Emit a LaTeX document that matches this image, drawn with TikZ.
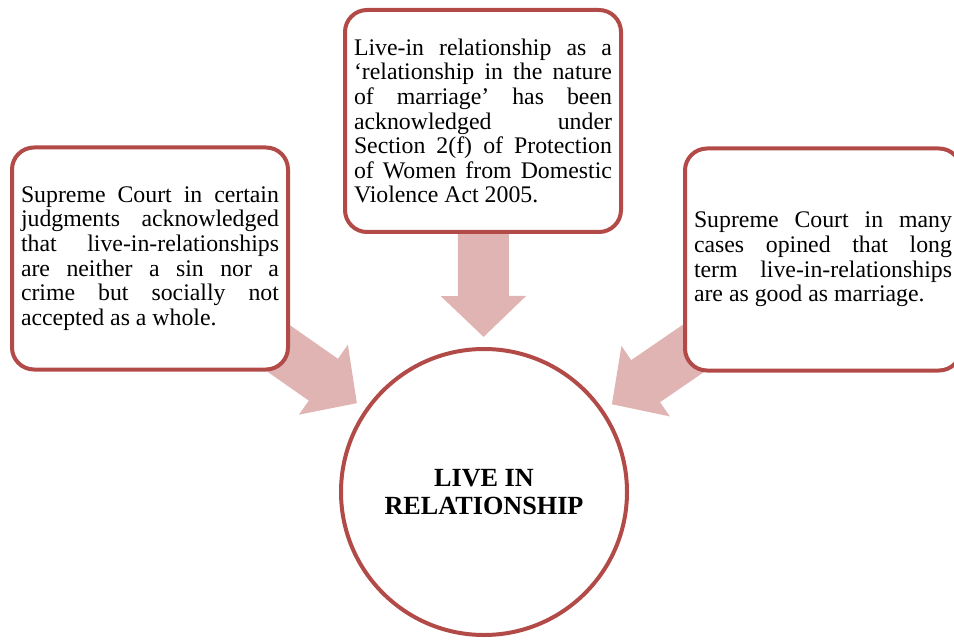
\documentclass[tikz,border=0pt]{standalone}
\usepackage{fontspec}
\setmainfont{Liberation Serif}
\usetikzlibrary{arrows.meta,backgrounds}
\definecolor{rimred}{HTML}{B24B48}
\definecolor{arrowpink}{HTML}{E0B4B3}
\hyphenpenalty=10000
\exhyphenpenalty=10000
\begin{document}
\begin{tikzpicture}[x=0.5pt, y=-0.5pt,
  note/.style={draw=rimred, line width=2pt, rounded corners=11pt, fill=white,
               minimum width=138pt, minimum height=111pt, text width=129pt,
               inner sep=0pt, align=justify,
               font=\fontsize{11.9}{12.3}\selectfont},
  hub/.style={draw=rimred, line width=2pt, circle, fill=white,
              minimum size=143pt, align=center,
              font=\bfseries\fontsize{13.1}{14}\selectfont},
  feed/.style={arrowpink, line width=25.5pt,
               -{Triangle[length=20.5pt, width=41.5pt]}, shorten >=5pt}
]
  \useasboundingbox (0,0) rectangle (954,642);
  \clip (0,0) rectangle (954,642);
  \node[hub] (hub) at (484,492) {LIVE IN\\RELATIONSHIP};
  \node[note] (top) at (483,121)
        {Live-in relationship as a\linebreak ‘relationship in the nature\linebreak
         of marriage’ has been\linebreak acknowledged under\linebreak
         Section 2(f) of Protection\linebreak of Women from Domestic\linebreak
         Violence Act 2005.};
  \node[note] (left) at (150,258.5)
        {Supreme Court in certain\linebreak judgments acknowledged\linebreak
         that live-in-relationships\linebreak are neither a sin nor a\linebreak
         crime but socially not\linebreak accepted as a whole.};
  \node[note] (right) at (823,259.5)
        {Supreme Court in many\linebreak cases opined that long\linebreak
         term live-in-relationships\linebreak are as good as marriage.};
  \begin{scope}[on background layer]
    \draw[feed] (top.center) -- (hub);
    \draw[feed] (left.center) -- (hub);
    \draw[feed] (right.center) -- (hub);
  \end{scope}
\end{tikzpicture}
\end{document}
